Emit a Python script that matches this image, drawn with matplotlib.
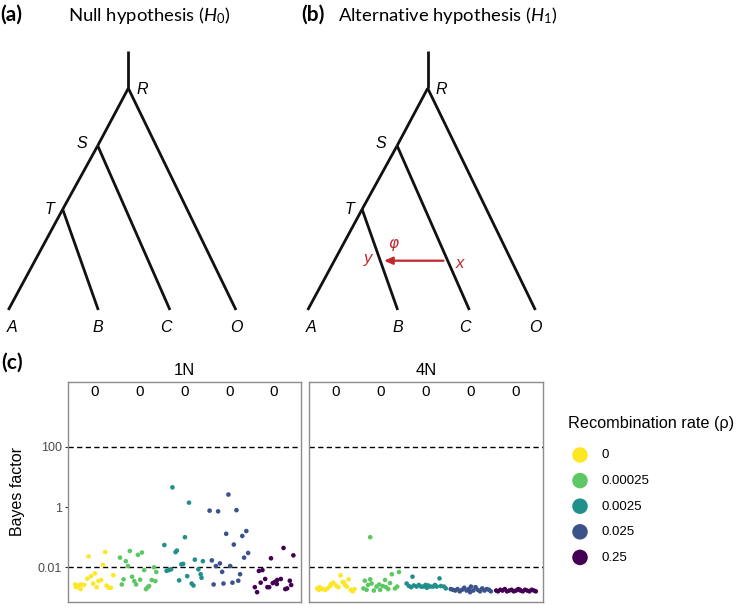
import numpy as np
import matplotlib
matplotlib.use('Agg')
import matplotlib.pyplot as plt

plt.rcParams['font.family'] = ['Liberation Sans', 'DejaVu Sans']
plt.rcParams['mathtext.fontset'] = 'custom'
plt.rcParams['mathtext.rm'] = 'Lato'
plt.rcParams['mathtext.it'] = 'Lato:italic'

W, H = 750, 611

# ---- data -------------------------------------------------------------
rates = ['0', '0.00025', '0.0025', '0.025', '0.25']
colors = ['#FDE725', '#5DC863', '#21908C', '#3B528B', '#440154']
panels = ['1N', '4N']
zero_counts = {'1N': [0, 0, 0, 0, 0], '4N': [0, 0, 0, 0, 0]}

# jitter offsets (category units) and Bayes factors, per rate
bf_1n_off = [
    [-0.14, 0.23, 0.18, -0.44, -0.38, -0.31, -0.24, -0.32, -0.17, -0.09,
     0.00, -0.04, 0.04, 0.08, 0.14, 0.26, 0.31, 0.36, 0.41, -0.42],
    [-0.44, -0.22, -0.04, 0.05, -0.31, -0.26, 0.10, 0.32, 0.37, -0.36,
     -0.40, -0.17, -0.12, -0.08, 0.01, 0.14, 0.21, 0.27, 0.35, 0.18],
    [-0.27, 0.10, -0.45, -0.20, -0.17, 0.01, -0.07, -0.03, -0.40, -0.35,
     -0.30, -0.12, 0.23, 0.41, 0.31, 0.36, 0.38, 0.06, 0.16, 0.20],
    [-0.02, -0.44, -0.25, 0.16, -0.07, 0.29, 0.38, 0.10, 0.33, 0.42,
     -0.39, -0.21, -0.30, 0.02, -0.16, 0.24, -0.35, -0.13, 0.07, 0.20],
    [0.21, 0.43, -0.07, -0.34, -0.26, -0.43, -0.38, -0.30, -0.20, -0.15,
     -0.11, -0.03, 0.02, 0.07, 0.15, 0.06, 0.25, 0.29, 0.35, 0.38],
]
bf_1n = [
    [0.023, 0.032, 0.012, 0.0027, 0.0025, 0.0027, 0.0026, 0.0019, 0.0042, 0.0051,
     0.0063, 0.0029, 0.0022, 0.0035, 0.0038, 0.0025, 0.0021, 0.0021, 0.0055, 0.0022],
    [0.021, 0.035, 0.026, 0.031, 0.016, 0.011, 0.0081, 0.010, 0.0070, 0.0040,
     0.0027, 0.0049, 0.0035, 0.0027, 0.0039, 0.0019, 0.0024, 0.0038, 0.0035, 0.0022],
    [4.5, 1.4, 0.055, 0.032, 0.036, 0.10, 0.0126, 0.013, 0.0077, 0.0081,
     0.0086, 0.0037, 0.018, 0.016, 0.0086, 0.0059, 0.0045, 0.0051, 0.0029, 0.0025],
    [2.6, 0.76, 0.72, 0.79, 0.13, 0.11, 0.16, 0.057, 0.021, 0.030,
     0.017, 0.0135, 0.011, 0.011, 0.0071, 0.0059, 0.0027, 0.0029, 0.0031, 0.0036],
    [0.044, 0.025, 0.020, 0.0076, 0.0081, 0.0022, 0.0015, 0.0031, 0.0041, 0.0022,
     0.0022, 0.0030, 0.0033, 0.0038, 0.0041, 0.0028, 0.0019, 0.0020, 0.0036, 0.0026],
]
bf_4n_off = [
    [-0.42, -0.36, -0.30, -0.24, -0.19, -0.11, -0.06, 0.00, 0.05, 0.10,
     0.15, 0.18, 0.28, 0.24, 0.33, 0.37, 0.41, -0.38, -0.13, 0.20],
    [-0.24, -0.39, -0.36, -0.32, -0.24, -0.21, -0.16, -0.10, -0.04, 0.04,
     0.11, 0.16, 0.24, 0.31, 0.36, 0.40, -0.29, -0.02, 0.20, 0.09],
    [-0.43, -0.38, -0.30, -0.27, -0.21, -0.16, -0.11, -0.06, -0.01, 0.05,
     0.10, 0.16, 0.20, 0.24, 0.30, 0.33, 0.40, 0.44, -0.33, 0.02],
    [-0.45, -0.40, -0.35, -0.30, -0.25, -0.20, -0.15, -0.10, -0.05, 0.00,
     0.05, 0.10, 0.15, 0.20, 0.25, 0.30, 0.35, 0.40, 0.44, -0.02],
    [-0.44, -0.40, -0.35, -0.30, -0.25, -0.20, -0.15, -0.10, -0.05, 0.00,
     0.05, 0.10, 0.15, 0.20, 0.25, 0.30, 0.35, 0.40, 0.44, 0.08],
]
bf_4n = [
    [0.0020, 0.0022, 0.0019, 0.0018, 0.0020, 0.0028, 0.0031, 0.0025, 0.0022, 0.0054,
     0.0033, 0.0031, 0.0040, 0.0023, 0.0018, 0.0016, 0.0019, 0.0018, 0.0024, 0.0026],
    [0.10, 0.0020, 0.0036, 0.0018, 0.0040, 0.0029, 0.0017, 0.0023, 0.0027, 0.0024,
     0.0022, 0.0019, 0.0059, 0.0020, 0.0023, 0.0070, 0.0026, 0.0018, 0.0030, 0.0038],
    [0.0029, 0.0024, 0.0049, 0.0025, 0.0023, 0.0026, 0.0023, 0.0023, 0.0026, 0.0025,
     0.0023, 0.0023, 0.0026, 0.0023, 0.0043, 0.0024, 0.0023, 0.0020, 0.0022, 0.0021],
    [0.0019, 0.0018, 0.0017, 0.0019, 0.0016, 0.0018, 0.0021, 0.0017, 0.0019, 0.0023,
     0.0017, 0.0022, 0.0018, 0.0016, 0.0020, 0.0017, 0.0019, 0.0018, 0.0016, 0.0015],
    [0.0017, 0.0016, 0.0018, 0.0017, 0.0019, 0.0016, 0.0017, 0.0018, 0.0016, 0.0017,
     0.0019, 0.0017, 0.0016, 0.0018, 0.0017, 0.0016, 0.0018, 0.0017, 0.0016, 0.0018],
]

# tree node positions (pixels) for the null-hypothesis diagram
node_names = ['top', 'R', 'S', 'T', 'A', 'B', 'C', 'O']
node_x = [128.3, 128.3, 97.7, 62.7, 8.3, 98.3, 170.0, 236.0]
node_y = [50.7, 88.3, 145.7, 209.3, 310.0, 310.0, 310.0, 310.0]
edges = [('top', 'R'), ('R', 'S'), ('S', 'T'), ('T', 'A'), ('T', 'B'), ('S', 'C'), ('R', 'O')]
tree_shift = 299.4

# ---- figure ------------------------------------------------------------
fig = plt.figure(figsize=(7.5, 6.11), dpi=100)
ov = fig.add_axes([0, 0, 1, 1])
ov.set_xlim(0, W)
ov.set_ylim(H, 0)
ov.axis('off')

title_font = ['Lato', 'DejaVu Sans']
red = '#C1272D'

pos = dict(zip(node_names, zip(node_x, node_y)))
for dx in [0, tree_shift]:
    for a, b in edges:
        ov.plot([pos[a][0] + dx, pos[b][0] + dx], [pos[a][1], pos[b][1]],
                color='#111111', lw=2.0, solid_capstyle='butt')
    ov.text(pos['R'][0] + dx + 8, pos['R'][1] + 1, 'R', style='italic', fontsize=11.5,
            ha='left', va='center')
    ov.text(pos['S'][0] + dx - 16, pos['S'][1] - 2, 'S', style='italic', fontsize=11.5,
            ha='center', va='center')
    ov.text(pos['T'][0] + dx - 13, pos['T'][1], 'T', style='italic', fontsize=11.5,
            ha='center', va='center')
    for name, tx in zip(['A', 'B', 'C', 'O'], [11.7, 98.3, 165.7, 236.0]):
        ov.text(tx + dx, 327.5, name, style='italic', fontsize=11.5, ha='center', va='center')

ov.text(0.5, 15, '(a)', fontsize=15, fontweight='bold', family=title_font, ha='left', va='center')
ov.text(68, 15, 'Null hypothesis ($\\mathit{H}_0$)', fontsize=13.3, family=title_font,
        ha='left', va='center')
ov.text(301.5, 15, '(b)', fontsize=15, fontweight='bold', family=title_font, ha='left', va='center')
ov.text(338.5, 15, 'Alternative hypothesis ($\\mathit{H}_1$)', fontsize=13.3, family=title_font,
        ha='left', va='center')
ov.text(1, 363, '(c)', fontsize=15, fontweight='bold', family=title_font, ha='left', va='center')

# introgression arrow x -> y
ov.annotate('', xy=(384, 260.7), xytext=(443.5, 260.7),
            arrowprops=dict(arrowstyle='-|>,head_length=0.5,head_width=0.22', color=red, lw=1.6,
                            shrinkA=0, shrinkB=0))
ov.text(393.5, 243.5, '\u03c6', color=red, style='italic', fontsize=11, ha='center', va='center',
        family=['DejaVu Sans'])
ov.text(460, 263.5, 'x', color=red, style='italic', fontsize=12, ha='center', va='center')
ov.text(368.5, 259, 'y', color=red, style='italic', fontsize=12, ha='center', va='center')


def px_axes(left, top, right, bottom):
    return fig.add_axes([left / W, 1 - bottom / H, (right - left) / W, (bottom - top) / H])


panel_boxes = {'1N': (68, 382, 301, 602), '4N': (309, 382, 543, 602)}
panel_data = {'1N': (bf_1n_off, bf_1n), '4N': (bf_4n_off, bf_4n)}

for i, p in enumerate(panels):
    ax = px_axes(*panel_boxes[p])
    ax.set_facecolor('none')
    offs, vals = panel_data[p]
    for k in range(len(rates)):
        xs = (k + 1) + np.array(offs[k])
        ax.scatter(xs, vals[k], s=11, color=colors[k], edgecolors='none', zorder=3)
        ax.text(k + 1, 10 ** 3.82, str(zero_counts[p][k]), fontsize=11, ha='center', va='center')
    for yl in [100, 0.01]:
        ax.axhline(yl, color='black', lw=1.0, ls=(0, (3.8, 2.4)), zorder=2)
    ax.set_yscale('log')
    ax.set_ylim(10 ** -3.15, 10 ** 4.15)
    ax.set_xlim(0.4, 5.6)
    ax.set_xticks([])
    ax.set_yticks([0.01, 1, 100])
    ax.minorticks_off()
    ax.tick_params(axis='y', length=2.5, width=0.8, color='#333333', labelsize=9,
                   labelcolor='#4D4D4D', pad=2)
    if i == 0:
        ax.set_yticklabels(['0.01', '1', '100'])
        ax.set_ylabel('Bayes factor', fontsize=11.5, labelpad=9)
    else:
        ax.set_yticklabels([])
        ax.tick_params(axis='y', length=0)
    for sp in ax.spines.values():
        sp.set_color('#8C8C8C')
        sp.set_linewidth(1.0)
    ax.set_title(p, fontsize=12, pad=5)

# legend
ov.text(568, 423.5, 'Recombination rate (\u03c1)', fontsize=11.7, ha='left', va='center')
for k, lab in enumerate(rates):
    ly = 455 + k * 25.6
    ov.scatter([580], [ly], s=125, color=colors[k], edgecolors='none')
    ov.text(601.5, ly + 0.5, lab, fontsize=9.5, ha='left', va='center')

fig.savefig('out.png', dpi=100)
